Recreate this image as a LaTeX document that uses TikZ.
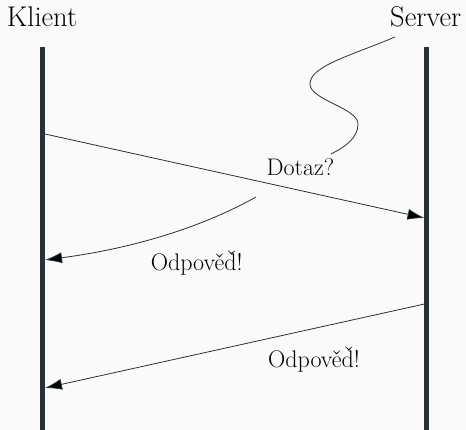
\documentclass[tikz,border=0pt]{standalone}
\usetikzlibrary{arrows.meta}
\definecolor{bg}{HTML}{FAFAFA}
\definecolor{slate}{HTML}{263238}
\newcommand\dcar{\ooalign{d\cr\hfil\raisebox{0.13em}{ˇ}\kern-0.02em\cr}}
\begin{document}
\begin{tikzpicture}[x=1pt,y=-1pt,
  lifeline/.style={line width=4.6pt, draw=slate},
  msg/.style={draw=slate, line width=0.8pt, -{Latex[length=17pt,width=11pt,fill=black]}},
  notecurve/.style={draw=slate, line width=0.8pt},
  actorname/.style={font=\fontsize{28.5}{34}\selectfont, inner sep=0pt, anchor=base},
  msglabel/.style={font=\fontsize{24}{29}\selectfont, inner sep=0pt, anchor=base}]
\fill[bg] (0,0) rectangle (466,430);
\useasboundingbox (0,0) rectangle (466,430);
% names
\node[actorname] (klient) at (42,26.7) {Klient};
\node[actorname] (server) at (425.7,26.7) {Server};
% lifelines
\coordinate (kt) at (42.6,47);
\coordinate (kb) at (42.6,432);
\coordinate (st) at (426.6,47);
\coordinate (sb) at (426.6,432);
\draw[lifeline] (kt) -- (kb);
\draw[lifeline] (st) -- (sb);
% message points
\coordinate (m1s) at (45,134);
\coordinate (m1e) at (424.5,218);
\coordinate (m2s) at (256,197);
\coordinate (m2e) at (45,260);
\coordinate (m3s) at (424.5,304);
\coordinate (m3e) at (45,388);
\coordinate (w0) at (395,37);
\coordinate (w3) at (331,154);
% labels
\node[msglabel] (dotaz) at (300.5,175.5) {Dotaz?};
\node[msglabel] (odp1) at (196.7,270.3) {Odpově\dcar!};
\node[msglabel] (odp2) at (314,367) {Odpově\dcar!};
% arrows
\draw[msg] (m1s) -- (m1e);
\draw[msg] (m2s) .. controls (215,220) and (150,246) .. (m2e);
\draw[msg] (m3s) -- (m3e);
% wavy note line
\draw[notecurve] (w0) .. controls (350,56) and (310,66) .. (310,84)
  .. controls (310,100) and (358,108) .. (358,124)
  .. controls (358,138) and (345,147) .. (w3);
\end{tikzpicture}
\end{document}
